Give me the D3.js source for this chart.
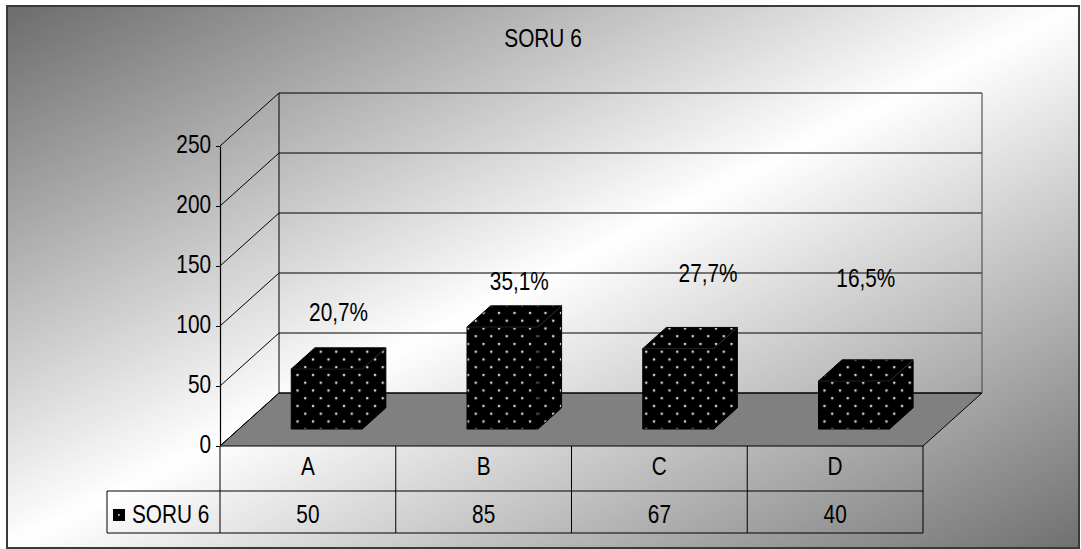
<!DOCTYPE html>
<html>
<head>
<meta charset="utf-8">
<script src="https://cdn.jsdelivr.net/npm/d3@7"></script>
<style>
  html, body { margin: 0; padding: 0; background: #fff; }
  svg { display: block; }
  text { font-family: "Liberation Sans", Arial, sans-serif; fill: #000; }
</style>
</head>
<body>
<svg id="chart" width="1081" height="549"></svg>
<script>
// ---- data ----
const title = "SORU 6";
const seriesName = "SORU 6";
const categories = ["A", "B", "C", "D"];
const values = [50, 85, 67, 40];
const tickValues = [0, 50, 100, 150, 200, 250];

// ---- layout ----
const FS = 20.8, STRETCH = 1.22;           // font size and vertical stretch of all text
const plot = { left: 220, right: 923, bottom: 446 };
const depth = { dx: 59, dy: 53 };          // full depth of the 3D box
const barDepth = [0.32, 0.72];             // bar front/back as a fraction of depth
const barFrac = 0.404;                     // bar width as a fraction of its band
const table = { legendLeft: 107, row1: 491, row2: 533 };
// manual placement of the percentage labels relative to each bar top
const labelShift = [[0, -27], [5, -16], [18, -45], [0, -73]];

const svg = d3.select("#chart");
const defs = svg.append("defs");

// background gradient: grey - white - grey along the diagonal
const bg = defs.append("linearGradient").attr("id", "bg")
  .attr("x1", 0).attr("y1", 0).attr("x2", 1).attr("y2", 1);
bg.append("stop").attr("offset", 0).attr("stop-color", "#6c6c6c");
bg.append("stop").attr("offset", 0.5).attr("stop-color", "#ffffff");
bg.append("stop").attr("offset", 1).attr("stop-color", "#707070");

// dotted fill used by the bars
const tile = 15.5;
const pat = defs.append("pattern").attr("id", "dots")
  .attr("patternUnits", "userSpaceOnUse")
  .attr("width", tile).attr("height", tile);
pat.append("rect").attr("width", tile).attr("height", tile).attr("fill", "#000");
[[3, 3], [3 + tile / 2, 3 + tile / 2]].forEach(([cx, cy]) => {
  pat.append("circle").attr("cx", cx).attr("cy", cy).attr("r", 1.3).attr("fill", "#d2d2d2");
});

svg.append("rect").attr("x", 7).attr("y", 6).attr("width", 1072).attr("height", 542)
  .attr("fill", "url(#bg)").attr("stroke", "#3a3a3a").attr("stroke-width", 2);

function label(g, x, y, str, anchor) {
  return g.append("text")
    .attr("transform", `translate(${x},${y}) scale(1,${STRETCH})`)
    .attr("text-anchor", anchor || "middle")
    .attr("font-size", FS)
    .text(str);
}

// ---- scales ----
const y = d3.scaleLinear().domain([0, 250]).range([plot.bottom, plot.bottom - 300]);
const x = d3.scaleBand().domain(categories).range([plot.left, plot.right]);
const P = (px, py, d) => [px + depth.dx * d, py - depth.dy * d];
const pts = arr => arr.map(p => p.join(",")).join(" ");

const g = svg.append("g");

// floor
g.append("polygon")
  .attr("points", pts([P(plot.left, y(0), 0), P(plot.right, y(0), 0), P(plot.right, y(0), 1), P(plot.left, y(0), 1)]))
  .attr("fill", "#808080").attr("stroke", "#000").attr("stroke-width", 1);

// walls and gridlines
tickValues.forEach(v => {
  const a = P(plot.left, y(v), 0), b = P(plot.left, y(v), 1), c = P(plot.right, y(v), 1);
  g.append("line").attr("x1", a[0]).attr("y1", a[1]).attr("x2", b[0]).attr("y2", b[1])
    .attr("stroke", "#000").attr("stroke-width", 1);
  g.append("line").attr("x1", b[0]).attr("y1", b[1]).attr("x2", c[0]).attr("y2", c[1])
    .attr("stroke", "#000").attr("stroke-width", 1.2);
});
const bl = P(plot.left, y(0), 1), tl = P(plot.left, y(250), 1);
const br = P(plot.right, y(0), 1), tr = P(plot.right, y(250), 1);
g.append("line").attr("x1", bl[0]).attr("y1", bl[1]).attr("x2", tl[0]).attr("y2", tl[1])
  .attr("stroke", "#000").attr("stroke-width", 1);
g.append("line").attr("x1", br[0]).attr("y1", br[1]).attr("x2", tr[0]).attr("y2", tr[1])
  .attr("stroke", "#555").attr("stroke-width", 1.2);

// value axis
const axis = g.append("g").attr("transform", `translate(${plot.left},0)`)
  .call(d3.axisLeft(y).tickValues(tickValues).tickSize(4).tickSizeOuter(0).tickPadding(5));
axis.select(".domain").attr("stroke", "#000").attr("stroke-width", 1.2);
axis.selectAll(".tick line").attr("stroke", "#000");
axis.selectAll(".tick text")
  .attr("font-size", FS).attr("font-family", "Liberation Sans, Arial, sans-serif")
  .attr("fill", "#000").attr("dy", "0.27em")
  .attr("transform", `scale(1,${STRETCH})`);

// bars
const total = d3.sum(values);
const bw = x.bandwidth() * barFrac;
categories.forEach((cat, i) => {
  const v = values[i];
  const x0 = x(cat) + (x.bandwidth() - bw) / 2, x1 = x0 + bw;
  const [d0, d1] = barDepth;
  const fbl = P(x0, y(0), d0), fbr = P(x1, y(0), d0), ftl = P(x0, y(v), d0), ftr = P(x1, y(v), d0);
  const bbr = P(x1, y(0), d1), btl = P(x0, y(v), d1), btr = P(x1, y(v), d1);
  const bar = g.append("g");
  bar.append("polygon").attr("points", pts([fbl, fbr, ftr, ftl]))
    .attr("fill", "url(#dots)").attr("stroke", "#000").attr("stroke-width", 1);
  bar.append("polygon").attr("points", pts([ftl, ftr, btr, btl]))
    .attr("fill", "url(#dots)").attr("stroke", "#000").attr("stroke-width", 1);
  bar.append("polygon").attr("points", pts([fbr, bbr, btr, ftr]))
    .attr("fill", "url(#dots)").attr("stroke", "#000").attr("stroke-width", 1);
  bar.append("line").attr("x1", ftr[0]).attr("y1", ftr[1]).attr("x2", btr[0]).attr("y2", btr[1])
    .attr("stroke", "#3c3c3c").attr("stroke-width", 0.8);
  bar.append("line").attr("x1", ftl[0]).attr("y1", ftl[1]).attr("x2", ftr[0]).attr("y2", ftr[1])
    .attr("stroke", "#2a2a2a").attr("stroke-width", 0.8);

  // percentage share label above the bar top
  const topC = P((x0 + x1) / 2, y(v), (d0 + d1) / 2);
  const pct = (v / total * 100).toFixed(1).replace(".", ",") + "%";
  label(g, topC[0] + labelShift[i][0], btl[1] + labelShift[i][1], pct);
});

// data table under the plot
const t = svg.append("g");
const line = (x1, y1, x2, y2) => t.append("line")
  .attr("x1", x1).attr("y1", y1).attr("x2", x2).attr("y2", y2)
  .attr("stroke", "#000").attr("stroke-width", 1);
[plot.left, ...categories.map(c => x(c) + x.bandwidth())].forEach(xx => line(xx, plot.bottom, xx, table.row2));
line(table.legendLeft, table.row1, plot.right, table.row1);
line(table.legendLeft, table.row2, plot.right, table.row2);
line(table.legendLeft, table.row1, table.legendLeft, table.row2);
categories.forEach((cat, i) => {
  const cx = x(cat) + x.bandwidth() / 2;
  label(t, cx, 475, cat);
  label(t, cx, 523, String(values[i]));
});
// legend key
t.append("rect").attr("x", 113).attr("y", 509).attr("width", 12).attr("height", 12)
  .attr("fill", "#000");
t.append("rect").attr("x", 118).attr("y", 514).attr("width", 1.8).attr("height", 1.8)
  .attr("fill", "#bbb");
label(t, 132, 523, seriesName, "start");

// title
label(svg, 543, 47, title);
</script>
</body>
</html>
